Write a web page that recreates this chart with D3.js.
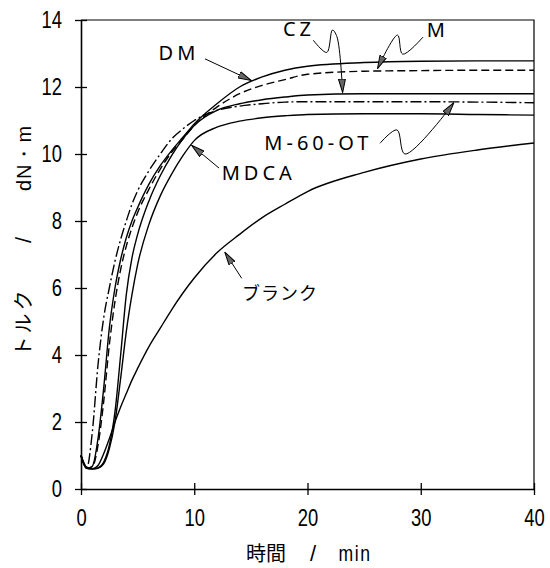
<!DOCTYPE html>
<html>
<head>
<meta charset="utf-8">
<script src="https://cdn.jsdelivr.net/npm/d3@7"></script>
<style>
  body { margin: 0; background: #fff; }
  text { fill: #000; }
</style>
</head>
<body>
<div id="chart"></div>
<script>
// cure time (min)
const times = [0, 0.5, 1, 1.5, 2, 2.5, 3, 3.5, 4, 4.5, 5, 6, 7, 8, 9, 10, 12, 14, 16, 18, 20, 25, 30, 35, 40];

// torque (dN・m) for each accelerator
const dmValues     = [1.0, 0.62, 0.68, 1.5, 3.0, 4.8, 6.0, 6.85, 7.5, 8.0, 8.4, 9.1, 9.65, 10.1, 10.5, 10.9, 11.5, 12.0, 12.3, 12.5, 12.62, 12.73, 12.77, 12.78, 12.78];
const mValues      = [1.0, 0.62, 0.66, 1.3, 2.6, 4.3, 5.6, 6.55, 7.25, 7.8, 8.25, 8.95, 9.55, 10.05, 10.45, 10.85, 11.4, 11.8, 12.05, 12.22, 12.38, 12.47, 12.49, 12.5, 12.5];
const czValues     = [1.0, 0.62, 0.6, 0.63, 0.8, 1.3, 2.3, 4.0, 5.8, 6.9, 7.6, 8.6, 9.35, 9.95, 10.45, 10.85, 11.3, 11.5, 11.62, 11.7, 11.76, 11.8, 11.8, 11.8, 11.8];
const m60otValues  = [1.0, 0.62, 1.7, 3.7, 5.1, 6.0, 6.8, 7.45, 8.0, 8.5, 8.9, 9.5, 10.0, 10.45, 10.75, 11.0, 11.3, 11.43, 11.5, 11.55, 11.56, 11.56, 11.56, 11.55, 11.53];
const mdcaValues   = [1.0, 0.62, 0.6, 0.62, 0.75, 1.2, 2.0, 3.3, 4.7, 5.8, 6.7, 7.9, 8.75, 9.4, 9.95, 10.4, 10.8, 10.98, 11.08, 11.14, 11.18, 11.2, 11.2, 11.18, 11.16];
const blankValues  = [1.0, 0.65, 0.6, 0.7, 1.05, 1.5, 2.0, 2.45, 2.85, 3.25, 3.6, 4.25, 4.8, 5.35, 5.85, 6.3, 7.05, 7.6, 8.1, 8.5, 8.88, 9.45, 9.85, 10.12, 10.33];

const xTicks = [0, 10, 20, 30, 40];
const yTicks = [0, 2, 4, 6, 8, 10, 12, 14];

const width = 550;
const height = 568;
const margin = { top: 20, right: 16, bottom: 79, left: 81 };
const squeeze = 0.8; // narrow look of the digits

const series = [
  { name: "DM", values: dmValues, dash: null },
  { name: "M", values: mValues, dash: "8,4" },
  { name: "CZ", values: czValues, dash: null },
  { name: "M-60-OT", values: m60otValues, dash: "11,3,2,3" },
  { name: "MDCA", values: mdcaValues, dash: null },
  { name: "ブランク", values: blankValues, dash: null }
];

const svg = d3.select("#chart").append("svg")
  .attr("width", width)
  .attr("height", height);

const x = d3.scaleLinear()
  .domain([0, 40])
  .range([margin.left, width - margin.right]);

const y = d3.scaleLinear()
  .domain([0, 14])
  .range([height - margin.bottom, margin.top]);

// frame (top and right)
svg.append("path")
  .attr("d", `M${x(0)},${y(14)}H${x(40)}V${y(0)}`)
  .attr("fill", "none")
  .attr("stroke", "#000")
  .attr("stroke-width", 1.2);

// axes: ticks cross the axis line
const xAxis = svg.append("g")
  .attr("transform", `translate(0,${y(0)})`)
  .call(d3.axisBottom(x).tickValues(xTicks).tickSize(6).tickSizeOuter(0).tickPadding(15));
xAxis.selectAll(".tick line").attr("y1", -6).attr("stroke-width", 1.3);
xAxis.select(".domain").attr("stroke-width", 1.6);
xAxis.selectAll(".tick text")
  .attr("transform", `scale(${squeeze},1)`);

const yAxis = svg.append("g")
  .attr("transform", `translate(${x(0)},0)`)
  .call(d3.axisLeft(y).tickValues(yTicks).tickSize(6).tickSizeOuter(0));
yAxis.selectAll(".tick line").attr("x1", 6).attr("stroke-width", 1.3);
yAxis.select(".domain").attr("stroke-width", 1.6);
yAxis.selectAll(".tick text")
  .attr("x", -19 / squeeze)
  .attr("transform", `scale(${squeeze},1)`);

svg.selectAll(".tick text")
  .style("font-family", "'Liberation Sans', Arial, sans-serif")
  .style("font-size", "23px")
  .attr("fill", "#000");

// curves
const line = d3.line()
  .x((d, i) => x(times[i]))
  .y(d => y(d))
  .curve(d3.curveMonotoneX);

svg.append("g")
  .selectAll("path")
  .data(series)
  .join("path")
  .attr("fill", "none")
  .attr("stroke", "#000")
  .attr("stroke-width", 1.4)
  .attr("stroke-dasharray", d => d.dash)
  .attr("d", d => line(d.values));

// arrow heads
svg.append("defs").append("marker")
  .attr("id", "head")
  .attr("viewBox", "0 0 14 8")
  .attr("refX", 13)
  .attr("refY", 4)
  .attr("markerWidth", 14)
  .attr("markerHeight", 8)
  .attr("markerUnits", "userSpaceOnUse")
  .attr("orient", "auto")
  .append("path")
  .attr("d", "M0,0.5L13.5,4L0,7.5Z")
  .attr("fill", "#666")
  .attr("stroke", "#000")
  .attr("stroke-width", 1);

// labels and leader arrows, in data units [time, torque]
const labels = [
  { text: "DM", at: [8.65, 12.81], anchor: "middle", jp: false,
    path: [[10.95, 12.84], [15.0, 12.2]] },
  { text: "CZ", at: [19.25, 13.52], anchor: "middle", jp: false,
    path: [[20.5, 13.4], [21.7, 13.03], [22.2, 13.7], [22.6, 13.5], [23.1, 11.85]] },
  { text: "M", at: [31.5, 13.49], anchor: "middle", jp: false,
    path: [[30.2, 13.49], [28.4, 12.98], [27.95, 13.55], [26.2, 12.56]] },
  { text: "M-60-OT", at: [20.96, 10.12], anchor: "middle", jp: false,
    path: [[26.4, 10.32], [27.9, 10.72], [28.6, 10.0], [32.9, 11.52]] },
  { text: "MDCA", at: [12.42, 9.22], anchor: "start", jp: false,
    path: [[12.19, 9.58], [9.8, 10.25]] },
  { text: "ブランク", at: [14.22, 5.64], anchor: "start", jp: true,
    path: [[14.19, 6.29], [12.72, 7.06]] }
];

const leader = d3.line()
  .x(d => x(d[0]))
  .y(d => y(d[1]))
  .curve(d3.curveCatmullRom.alpha(0.5));

svg.append("g")
  .selectAll("path")
  .data(labels)
  .join("path")
  .attr("fill", "none")
  .attr("stroke", "#000")
  .attr("stroke-width", 1)
  .attr("marker-end", "url(#head)")
  .attr("d", d => leader(d.path));

svg.append("g")
  .selectAll("text")
  .data(labels)
  .join("text")
  .attr("x", d => x(d.at[0]))
  .attr("y", d => y(d.at[1]))
  .attr("text-anchor", d => d.anchor)
  .style("font-family", d => d.jp ? "'Noto Sans CJK JP', sans-serif" : "'Noto Sans', 'DejaVu Sans', sans-serif")
  .style("font-size", d => d.jp ? "18px" : "20px")
  .style("letter-spacing", d => d.jp ? "1px" : "4px")
  .text(d => d.text);

// axis titles
const titleFont = "'Noto Sans CJK JP', sans-serif";
const narrowFont = "'Liberation Sans', Arial, sans-serif";

svg.append("text")
  .attr("x", 266).attr("y", 561)
  .attr("text-anchor", "middle")
  .style("font-family", titleFont)
  .style("font-size", "20px")
  .text("時間");
svg.append("text")
  .attr("x", 313).attr("y", 561)
  .attr("text-anchor", "middle")
  .style("font-family", narrowFont)
  .style("font-size", "22px")
  .text("/");
svg.append("text")
  .attr("x", 355 / squeeze).attr("y", 561)
  .attr("transform", `scale(${squeeze},1)`)
  .attr("text-anchor", "middle")
  .style("font-family", narrowFont)
  .style("font-size", "22px")
  .style("letter-spacing", "2px")
  .text("min");

const yTitle = svg.append("g")
  .attr("transform", "translate(31,0) rotate(-90)");
yTitle.append("text")
  .attr("x", -322).attr("y", 0)
  .attr("text-anchor", "middle")
  .style("font-family", titleFont)
  .style("font-size", "20px")
  .style("letter-spacing", "3px")
  .text("トルク");
yTitle.append("text")
  .attr("x", -240).attr("y", 0)
  .attr("text-anchor", "middle")
  .style("font-family", narrowFont)
  .style("font-size", "22px")
  .text("/");
yTitle.append("text")
  .attr("x", -158).attr("y", 0)
  .attr("text-anchor", "middle")
  .style("font-family", narrowFont)
  .style("font-size", "20px")
  .style("letter-spacing", "1px")
  .text("dN・m");
</script>
</body>
</html>
